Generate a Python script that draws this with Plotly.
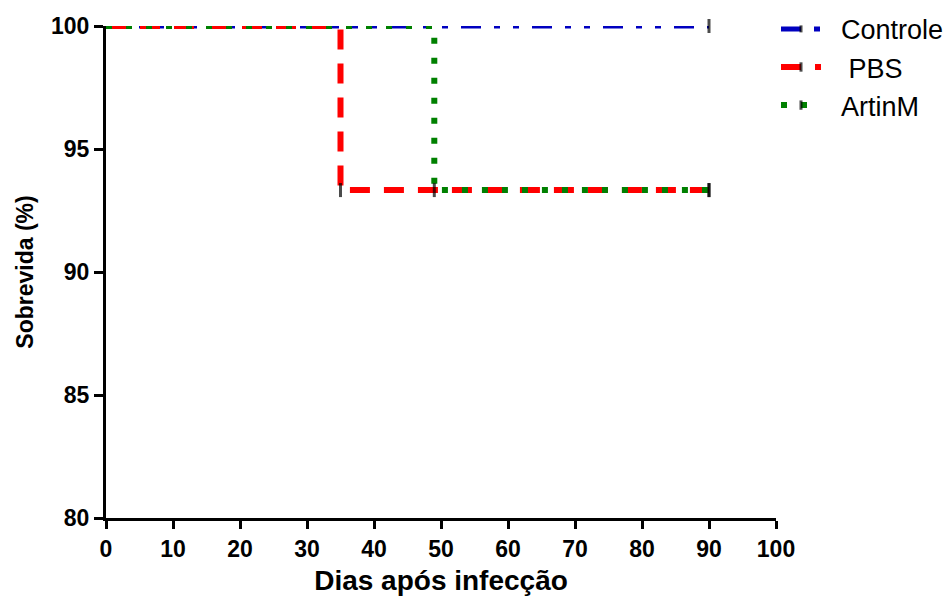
import plotly.graph_objects as go

# Data
controle_days = [0, 90]
controle_surv = [100, 100]
pbs_days = [0, 35, 90]
pbs_surv = [100, 93.33, 93.33]
artinm_days = [0, 49, 90]
artinm_surv = [100, 93.33, 93.33]
# censor/tick marks (0 = no mark)
controle_marks = [0, 1]
pbs_marks = [0, 1, 1]
artinm_marks = [0, 1, 1]
series_names = ["Controle", "PBS", "ArtinM"]

NB = "\u00a0"
styles = [
    ("#0000c0", "20px,13px,6px,13px,6px,13px", 5, 2),
    ("#ff0000", "20px,14px", 6, 3),
    ("#008000", "6px,14px", 6, 2),
]
data = [
    (controle_days, controle_surv, controle_marks),
    (pbs_days, pbs_surv, pbs_marks),
    (artinm_days, artinm_surv, artinm_marks),
]

fig = go.Figure()
for i, (name, (xs, ys, marks), (color, dash, w, pad)) in enumerate(zip(series_names, data, styles)):
    fig.add_trace(go.Scatter(
        x=xs, y=ys, name=NB * pad + name, mode="lines+markers", line_shape="hv",
        legendgroup=f"g{i}",
        line=dict(color=color, dash=dash, width=w),
        marker=dict(symbol="line-ns", size=[10 * m for m in marks], color="black",
                    line=dict(color="black", width=3)),
        cliponaxis=False,
    ))

font_family = "Liberation Sans, Arial, sans-serif"
fig.update_layout(
    width=948, height=599,
    margin=dict(l=106, r=172, t=26, b=81, autoexpand=False),
    plot_bgcolor="white", paper_bgcolor="white",
    font=dict(family=font_family, color="black"),
    legend=dict(x=1.0, y=1.043, xanchor="left", yanchor="top",
                font=dict(size=27, family=font_family), itemwidth=40,
                tracegroupgap=0, bgcolor="rgba(0,0,0,0)"),
    xaxis=dict(range=[0, 100], tickvals=list(range(0, 101, 10)),
               showgrid=False, zeroline=False, showline=True, linecolor="black", linewidth=3,
               ticks="outside", ticklen=8, tickwidth=3, tickcolor="black",
               tickfont=dict(size=23, family=font_family, weight="bold"),
               title=dict(text="<b>Dias após infecção</b>", font=dict(size=28), standoff=10)),
    yaxis=dict(range=[80, 100], tickvals=[80, 85, 90, 95, 100],
               showgrid=False, zeroline=False, showline=True, linecolor="black", linewidth=3,
               ticks="outside", ticklen=9, tickwidth=3, tickcolor="black",
               tickfont=dict(size=23, family=font_family, weight="bold"),
               title=dict(text="<b>Sobrevida (%)</b>", font=dict(size=23), standoff=11)),
)

fig.write_html("out.html")
